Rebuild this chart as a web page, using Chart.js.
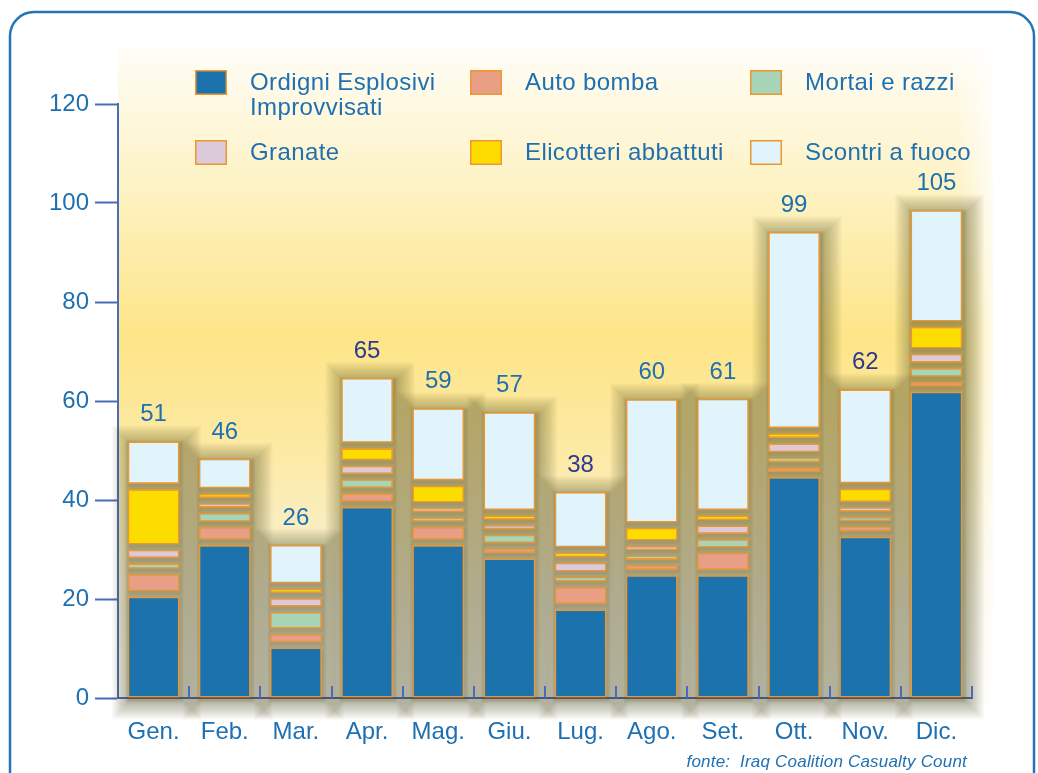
<!DOCTYPE html>
<html lang="it">
<head>
<meta charset="utf-8">
<title>Cause dei decessi per mese</title>
<script src="https://cdn.jsdelivr.net/npm/chart.js@4.4.0/dist/chart.umd.min.js"></script>
<style>
    html, body { margin: 0; padding: 0; background: #fff; }
    #wrap { width: 1038px; height: 773px; position: relative; }
</style>
</head>
<body>
<div id="wrap"><canvas id="chart"></canvas></div>
<script>
// Monthly casualty causes, stacked segments drawn apart.
const months = ['Gen.', 'Feb.', 'Mar.', 'Apr.', 'Mag.', 'Giu.', 'Lug.', 'Ago.', 'Set.', 'Ott.', 'Nov.', 'Dic.'];
const totals = [51, 46, 26, 65, 59, 57, 38, 60, 61, 99, 62, 105];
const ordigni = [20.5, 30.9, 10.2, 38.6, 30.9, 28.2, 17.9, 24.8, 24.8, 44.6, 32.6, 61.9];
const autoBomba = [3.5, 2.6, 1.7, 1.7, 2.6, 1.0, 3.5, 1.0, 3.5, 0.9, 1.0, 0.9];
const mortai = [1.1, 1.8, 3.4, 1.8, 0.9, 1.7, 1.0, 0.9, 1.7, 1.0, 0.9, 1.8];
const granate = [1.7, 0.9, 1.7, 1.7, 0.9, 0.9, 1.8, 0.9, 1.7, 1.8, 0.9, 1.8];
const elicotteri = [11.2, 0.9, 0.9, 2.5, 3.4, 0.9, 1.0, 2.6, 1.0, 1.0, 2.7, 4.4];
const scontri = [8.6, 6.0, 7.8, 13.1, 14.6, 19.8, 11.2, 24.9, 22.5, 39.6, 19.0, 22.5];
const seriesNames = ['Ordigni Esplosivi\nImprovvisati', 'Auto bomba', 'Mortai e razzi', 'Granate', 'Elicotteri abbattuti', 'Scontri a fuoco'];
const yMax = 120;
const yStep = 20;
const source = 'fonte:  Iraq Coalition Casualty Count';

const seriesColors = ['#1b72ad', '#e89f86', '#a8d4b7', '#dccadb', '#fddc00', '#e1f3fb'];
const borderOrange = '#f0962f';
const textBlue = '#1f70b1';
const axisBlue = '#4a6cb6';
const FONT = "'Liberation Sans', Arial, sans-serif";
const SEGMENT_GAP = 1.05;

// build floating [from, to] ranges so the segments sit apart
const series = [ordigni, autoBomba, mortai, granate, elicotteri, scontri];
const bases = months.map(() => 0);
const datasets = series.map((values, i) => {
    const data = values.map((v, m) => {
        const lo = bases[m];
        const hi = lo + v;
        bases[m] = hi + SEGMENT_GAP;
        return [lo, hi];
    });
    return {
        label: seriesNames[i],
        data,
        backgroundColor: seriesColors[i],
        borderColor: borderOrange,
        borderWidth: 1.6,
        borderSkipped: false,
        grouped: false,
        categoryPercentage: 1,
        barPercentage: 0.73,
    };
});

const backdrop = {
    id: 'backdrop',
    beforeDraw(chart) {
        const ctx = chart.ctx;
        ctx.save();
        ctx.fillStyle = '#fff';
        ctx.fillRect(0, 0, chart.width, chart.height);

        const g = ctx.createLinearGradient(0, 48, 0, 705);
        g.addColorStop(0, '#fffdf6');
        g.addColorStop(0.22, '#fdf2c2');
        g.addColorStop(0.44, '#fde588');
        g.addColorStop(0.62, '#fceaa6');
        g.addColorStop(0.85, '#f7f2de');
        g.addColorStop(1, '#fbfaf6');
        ctx.fillStyle = g;
        ctx.fillRect(118, 48, 993 - 118, 705 - 48);

        const fade = ctx.createLinearGradient(955, 0, 995, 0);
        fade.addColorStop(0, 'rgba(255,255,255,0)');
        fade.addColorStop(1, 'rgba(255,255,255,0.85)');
        ctx.fillStyle = fade;
        ctx.fillRect(955, 48, 40, 705 - 48);

        ctx.strokeStyle = '#2574b6';
        ctx.lineWidth = 2.5;
        ctx.beginPath();
        ctx.roundRect(10, 12, 1024, 800, 24);
        ctx.stroke();
        ctx.restore();
    },
};

// soft dark glow behind each month column, built from stacked translucent rings,
// plus a tighter shade around every segment so the gaps read darker
const barShadows = {
    id: 'barShadows',
    beforeDatasetsDraw(chart) {
        const ctx = chart.ctx;
        const first = chart.getDatasetMeta(0).data;
        const last = chart.getDatasetMeta(chart.data.datasets.length - 1).data;
        ctx.save();
        ctx.fillStyle = 'rgba(100, 88, 30, 0.024)';
        first.forEach((bar, m) => {
            const { x, base, width } = bar.getProps(['x', 'base', 'width'], true);
            const top = last[m].getProps(['y'], true).y;
            const h = base - top;
            for (let k = 1; k <= 20; k++) {
                const grow = k * 0.95;
                ctx.fillRect(x - width / 2 + 3 - grow, top + 3 - grow, width + 2 * grow, h + 2 * grow);
            }
        });
        ctx.fillStyle = 'rgba(100, 88, 30, 0.07)';
        chart.data.datasets.forEach((ds, i) => {
            chart.getDatasetMeta(i).data.forEach((bar) => {
                const { x, y, base, width } = bar.getProps(['x', 'y', 'base', 'width'], true);
                const top = Math.min(y, base);
                const h = Math.abs(base - y);
                for (let k = 1; k <= 3; k++) {
                    ctx.fillRect(x - width / 2 + 1 - k, top + 2 - k, width + 2 * k, h + 2 * k);
                }
            });
        });
        ctx.restore();
    },
};

const decorations = {
    id: 'decorations',
    afterDatasetsDraw(chart) {
        const ctx = chart.ctx;
        const area = chart.chartArea;
        const step = (area.right - area.left) / months.length;
        ctx.save();
        // short upward ticks between months
        ctx.strokeStyle = axisBlue;
        ctx.lineWidth = 2;
        for (let i = 1; i <= months.length; i++) {
            const x = Math.round(area.left + i * step);
            ctx.beginPath();
            ctx.moveTo(x, area.bottom);
            ctx.lineTo(x, area.bottom - 12);
            ctx.stroke();
        }
        // totals above each bar
        const topMeta = chart.getDatasetMeta(chart.data.datasets.length - 1);
        const darkLabels = [3, 6, 10];
        ctx.font = `24px ${FONT}`;
        ctx.textAlign = 'center';
        ctx.textBaseline = 'alphabetic';
        topMeta.data.forEach((bar, m) => {
            const { x, y } = bar.getProps(['x', 'y'], true);
            ctx.fillStyle = darkLabels.includes(m) ? '#2d3a8f' : textBlue;
            ctx.fillText(String(totals[m]), x, y - 20);
        });
        ctx.restore();
    },
    afterDraw(chart) {
        const ctx = chart.ctx;
        ctx.save();
        const cols = [195, 470, 750];
        const rows = [70, 140];
        ctx.font = `24px ${FONT}`;
        ctx.textAlign = 'left';
        ctx.textBaseline = 'alphabetic';
        ctx.letterSpacing = '0.4px';
        chart.data.datasets.forEach((ds, i) => {
            const bx = cols[i % 3];
            const by = rows[Math.floor(i / 3)];
            ctx.fillStyle = ds.backgroundColor;
            ctx.fillRect(bx, by, 32, 25);
            ctx.strokeStyle = borderOrange;
            ctx.lineWidth = 1.5;
            ctx.strokeRect(bx + 0.75, by + 0.75, 30.5, 23.5);
            ctx.fillStyle = textBlue;
            ds.label.split('\n').forEach((line, k) => {
                ctx.fillText(line, bx + 55, by + 20 + k * 25);
            });
        });
        ctx.font = `italic 17px ${FONT}`;
        ctx.textAlign = 'right';
        ctx.letterSpacing = '0.2px';
        ctx.fillText(source, 967, 767);
        ctx.restore();
    },
};

new Chart(document.getElementById('chart'), {
    type: 'bar',
    data: { labels: months, datasets },
    options: {
        responsive: true,
        maintainAspectRatio: false,
        animation: false,
        layout: { padding: { left: 0, right: 66, top: 104, bottom: 0 } },
        plugins: {
            legend: { display: false },
            tooltip: { enabled: false },
        },
        scales: {
            x: {
                grid: { display: false },
                border: { display: true, color: axisBlue, width: 2 },
                ticks: { color: textBlue, font: { family: FONT, size: 24 }, padding: 12 },
                afterFit(scale) { scale.height = 75; },
            },
            y: {
                min: 0,
                max: yMax,
                ticks: { stepSize: yStep, color: textBlue, font: { family: FONT, size: 24 }, padding: 6 },
                grid: { drawOnChartArea: false, drawTicks: true, tickLength: 23, tickColor: axisBlue, tickWidth: 2 },
                border: { display: true, color: axisBlue, width: 2 },
                afterFit(scale) { scale.width = 118; },
            },
        },
    },
    plugins: [backdrop, barShadows, decorations],
});
</script>
</body>
</html>
